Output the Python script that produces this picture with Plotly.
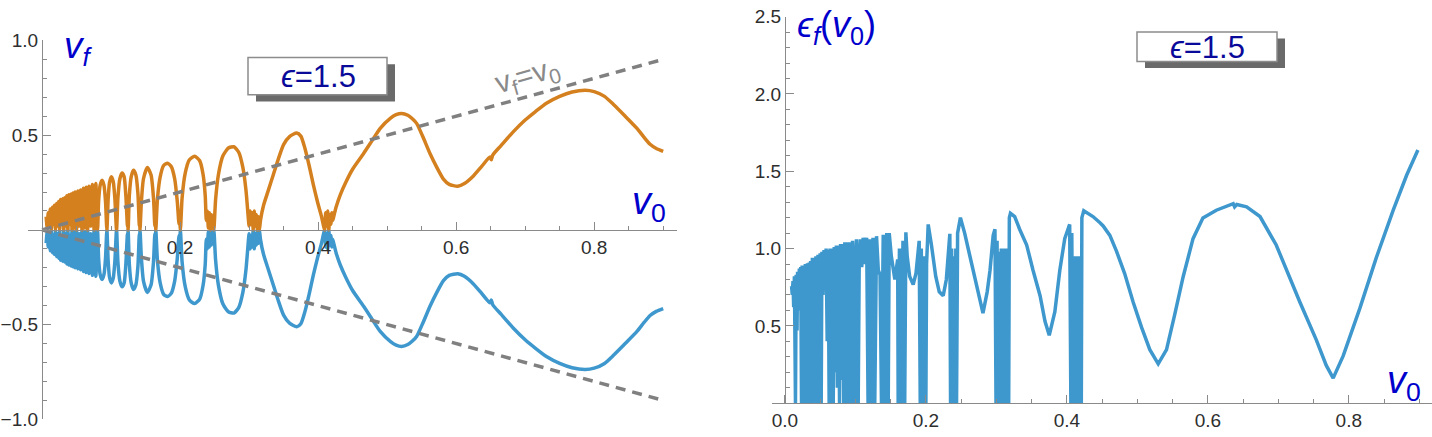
import plotly.graph_objects as go
import numpy as np

W, H = 1432, 437

# ---------------- data: left panel (v_f vs v0) ----------------
v0_left = [
    0.006, 0.0075, 0.009, 0.0105, 0.012, 0.0135, 0.015, 0.0165, 0.018, 0.0195,
    0.021, 0.0225, 0.024, 0.0255, 0.027, 0.0285, 0.030, 0.0315, 0.033, 0.0345,
    0.036, 0.0375, 0.039, 0.0405, 0.042, 0.0435, 0.045, 0.0465, 0.048, 0.050,
    0.052, 0.054, 0.056, 0.058, 0.060, 0.062, 0.064, 0.066, 0.068, 0.0705,
    0.073, 0.0755, 0.078, 0.0805,
    0.082, 0.0842, 0.087, 0.0898, 0.092, 0.094,
    0.0958, 0.0978, 0.1005, 0.1032, 0.1055, 0.108,
    0.110, 0.1128, 0.116, 0.119, 0.1215, 0.1238, 0.1243, 0.1248,
    0.1265, 0.1292, 0.1325, 0.136, 0.139, 0.141, 0.1415, 0.142,
    0.144, 0.147, 0.1527, 0.158, 0.1615, 0.1635, 0.1642, 0.1649,
    0.1672, 0.1712, 0.1762, 0.1818, 0.1872, 0.1922, 0.196, 0.1985, 0.1995, 0.2005,
    0.203, 0.2075, 0.2135, 0.221, 0.2285, 0.2335, 0.2365, 0.238,
    0.2395, 0.241, 0.2425, 0.244, 0.2455, 0.247, 0.248,
    0.249, 0.2515, 0.2555, 0.262, 0.270, 0.278, 0.285, 0.291, 0.2955, 0.2985,
    0.300, 0.3015, 0.303, 0.3045, 0.306, 0.3075, 0.309, 0.3105, 0.312, 0.3135, 0.315,
    0.3165, 0.321, 0.328, 0.335, 0.342, 0.350, 0.359, 0.369, 0.375, 0.381,
    0.387, 0.393, 0.399, 0.405, 0.408,
    0.4095, 0.411, 0.4125, 0.414, 0.4155, 0.417, 0.4185, 0.420,
    0.421, 0.426, 0.432, 0.440, 0.450, 0.4657, 0.478, 0.490, 0.505, 0.513,
    0.521, 0.530, 0.537, 0.543, 0.552, 0.5623, 0.572, 0.5816, 0.590, 0.6024,
    0.612, 0.625, 0.637, 0.649, 0.651, 0.653, 0.665, 0.683, 0.700, 0.715,
    0.7314, 0.750, 0.768, 0.787, 0.800, 0.815, 0.828, 0.845, 0.862, 0.872,
    0.881, 0.890, 0.900,
]
vf_upper = [
    0.07, 0.01, 0.09, 0.02, 0.11, 0.00, 0.12, 0.03, 0.13, 0.00,
    0.14, 0.02, 0.15, 0.00, 0.16, 0.04, 0.165, 0.00, 0.17, 0.02,
    0.18, 0.00, 0.185, 0.03, 0.19, 0.00, 0.195, 0.01, 0.20, 0.00,
    0.205, 0.02, 0.21, 0.00, 0.22, 0.01, 0.225, 0.00, 0.23, 0.02,
    0.24, 0.00, 0.245, 0.00,
    0.15, 0.235, 0.262, 0.235, 0.15, 0.00,
    0.16, 0.25, 0.28, 0.255, 0.17, 0.00,
    0.17, 0.27, 0.30, 0.28, 0.18, 0.02, 0.05, 0.00,
    0.18, 0.28, 0.315, 0.29, 0.19, 0.02, 0.06, 0.00,
    0.15, 0.27, 0.33, 0.29, 0.17, 0.02, 0.07, 0.00,
    0.16, 0.28, 0.34, 0.352, 0.335, 0.27, 0.15, 0.03, 0.08, 0.00,
    0.17, 0.30, 0.37, 0.389, 0.365, 0.29, 0.18, 0.05,
    0.10, 0.01, 0.09, 0.00, 0.08, 0.01, 0.05,
    0.00, 0.16, 0.29, 0.39, 0.432, 0.439, 0.41, 0.33, 0.21, 0.08,
    0.02, 0.10, 0.03, 0.09, 0.00, 0.10, 0.02, 0.08, 0.00, 0.07, 0.00,
    0.05, 0.13, 0.21, 0.29, 0.37, 0.45, 0.494, 0.511, 0.495, 0.43,
    0.34, 0.24, 0.15, 0.07, 0.02,
    0.00, 0.09, 0.02, 0.10, 0.00, 0.08, 0.03, 0.09,
    0.05, 0.12, 0.184, 0.25, 0.32, 0.402, 0.47, 0.536, 0.59, 0.608,
    0.615, 0.605, 0.585, 0.561, 0.49, 0.402, 0.33, 0.268, 0.24, 0.231,
    0.245, 0.285, 0.335, 0.385, 0.37, 0.395, 0.445, 0.519, 0.58, 0.625,
    0.67, 0.705, 0.728, 0.737, 0.73, 0.705, 0.662, 0.60, 0.536, 0.49,
    0.452, 0.43, 0.415,
]
vf_lower = [-v for v in vf_upper]  # mirror branch

diag_x = [0.0, 0.9]
diag_up = [0.0, 0.9]
diag_dn = [0.0, -0.9]

# ---------------- data: right panel (eps_f vs v0) ----------------
v0_right = [
    0.0095, 0.0105, 0.0115, 0.0125, 0.0135, 0.0142, 0.0150, 0.0160, 0.0172, 0.0180,
    0.0192, 0.0205, 0.0215, 0.0225, 0.0236, 0.0245, 0.0255, 0.0265, 0.0278, 0.029,
    0.0305, 0.032, 0.0335, 0.0345, 0.0355, 0.0365, 0.0378, 0.039, 0.0405, 0.042,
    0.0432, 0.044, 0.0455, 0.047, 0.0485, 0.050, 0.0515, 0.0525, 0.054, 0.0555,
    0.057, 0.0585, 0.060, 0.0615, 0.0628, 0.064, 0.0655, 0.067, 0.0686, 0.070,
    0.0715, 0.073, 0.0745, 0.076, 0.0775, 0.079, 0.0805, 0.082, 0.0835, 0.085,
    0.0865, 0.0875, 0.089, 0.0898, 0.0915, 0.0935, 0.0946, 0.096, 0.098, 0.0993,
    0.1015, 0.104, 0.1055, 0.107, 0.109, 0.111, 0.1135, 0.116, 0.118, 0.1205,
    0.1225, 0.125, 0.1275, 0.130, 0.1325, 0.135, 0.137, 0.1395, 0.142, 0.1445,
    0.1466, 0.148, 0.151, 0.156, 0.160, 0.1607, 0.1625, 0.165, 0.1675, 0.170,
    0.1716, 0.1735, 0.177, 0.182, 0.186, 0.1905, 0.192, 0.1935, 0.196, 0.198,
    0.200, 0.201, 0.2033, 0.208, 0.214, 0.219, 0.2246, 0.229, 0.232, 0.234,
    0.235, 0.2365, 0.238, 0.2395, 0.241, 0.2425, 0.2435, 0.245, 0.249, 0.255,
    0.262, 0.272, 0.281, 0.287, 0.291, 0.2955, 0.298, 0.2995, 0.301, 0.3025,
    0.304, 0.3055, 0.307, 0.3085, 0.310, 0.3115, 0.313, 0.3145, 0.316, 0.3175,
    0.3184, 0.320, 0.326, 0.333, 0.343, 0.352, 0.362, 0.369, 0.375, 0.383,
    0.390, 0.397, 0.404, 0.4057, 0.407, 0.4085, 0.410, 0.4115, 0.413, 0.4145,
    0.416, 0.4175, 0.419, 0.4205, 0.4213, 0.424, 0.437, 0.447, 0.4515, 0.461,
    0.4705, 0.482, 0.494, 0.506, 0.5177, 0.5296, 0.5414, 0.553, 0.565, 0.579,
    0.593, 0.612, 0.636, 0.638, 0.641, 0.655, 0.674, 0.697, 0.7116, 0.7305,
    0.754, 0.768, 0.7778, 0.792, 0.8156, 0.839, 0.863, 0.882, 0.898,
]
eps_f = [
    0.757, 0.70, 0.79, 0.62, 0.82, 0.0, 0.0, 0.83, 0.47, 0.85,
    0.66, 0.87, 0.60, 0.88, 0.0, 0.89, 0.0, 0.89, 0.0, 0.90,
    0.0, 0.905, 0.0, 0.91, 0.0, 0.92, 0.65, 0.94, 0.0, 0.94,
    0.60, 0.95, 0.0, 0.96, 0.0, 0.97, 0.0, 0.98, 0.70, 0.99,
    0.78, 1.00, 0.40, 0.99, 0.0, 1.00, 0.0, 1.00, 0.0, 1.01,
    0.20, 1.02, 0.10, 1.02, 0.0, 1.03, 0.15, 1.03, 0.0, 1.04,
    0.0, 1.04, 0.85, 0.0, 1.04, 0.0, 0.0, 1.05, 0.90, 0.0,
    1.06, 0.0, 0.95, 1.06, 0.88, 1.07, 0.90, 1.07, 0.0, 1.06,
    0.0, 1.07, 0.0, 1.08, 0.86, 0.83, 0.0, 1.09, 0.0, 1.10,
    0.0, 1.10, 0.95, 0.80, 0.93, 0.0, 1.00, 0.0, 1.05, 0.0,
    1.105, 0.95, 0.82, 0.767, 0.84, 1.05, 0.0, 1.00, 0.0, 0.95,
    0.0, 0.90, 1.156, 1.02, 0.82, 0.72, 0.695, 0.80, 0.95, 1.095,
    0.0, 1.00, 0.0, 0.95, 0.0, 1.00, 0.0, 1.10, 1.20, 1.10,
    0.96, 0.756, 0.582, 0.72, 0.86, 1.085, 1.125, 0.0, 1.05, 0.0,
    0.98, 0.0, 1.00, 0.0, 1.00, 0.0, 1.00, 0.0, 1.00, 0.0,
    1.20, 1.228, 1.207, 1.125, 1.023, 0.86, 0.695, 0.53, 0.439, 0.592,
    0.86, 1.064, 1.156, 0.0, 1.10, 0.0, 0.95, 0.0, 0.95, 0.0,
    0.95, 0.0, 0.95, 0.0, 1.20, 1.244, 1.207, 1.167, 1.146, 1.085,
    0.982, 0.838, 0.654, 0.49, 0.346, 0.254, 0.346, 0.572, 0.818, 1.064,
    1.197, 1.248, 1.29, 1.27, 1.285, 1.27, 1.207, 1.023, 0.859, 0.654,
    0.408, 0.244, 0.162, 0.306, 0.613, 0.941, 1.248, 1.474, 1.638,
]

left_xticks = [0.2, 0.4, 0.6, 0.8]
left_xticktext = ["0.2", "0.4", "0.6", "0.8"]
left_yticks = [-1.0, -0.5, 0.5, 1.0]
left_yticktext = ["\u22121.0", "\u22120.5", "0.5", "1.0"]
right_xticks = [0.0, 0.2, 0.4, 0.6, 0.8]
right_xticktext = ["0.0", "0.2", "0.4", "0.6", "0.8"]
right_yticks = [0.5, 1.0, 1.5, 2.0, 2.5]
right_yticktext = ["0.5", "1.0", "1.5", "2.0", "2.5"]

# ---------------- styling ----------------
BLUE = "#3E98CD"
ORANGE = "#D4801F"
GRAY_DASH = "#808080"
AX = "#8a8a8a"
FONT = "Liberation Sans, DejaVu Sans, Arial, sans-serif"
TICKFONT = dict(family=FONT, size=19, color="#2e2e2e")
LABEL_BLUE = "#0000CC"
BOX_TEXT = "#0A0A9A"
LW = 3.5


def px(x):
    return x / W


def py(y):
    return 1 - y / H


fig = go.Figure()

fig.add_trace(go.Scatter(x=v0_left, y=vf_lower, mode="lines",
                         line=dict(color=BLUE, width=LW, shape="spline", smoothing=0.6),
                         xaxis="x", yaxis="y"))
fig.add_trace(go.Scatter(x=v0_left, y=vf_upper, mode="lines",
                         line=dict(color=ORANGE, width=LW, shape="spline", smoothing=0.6),
                         xaxis="x", yaxis="y"))
fig.add_trace(go.Scatter(x=diag_x, y=diag_up, mode="lines",
                         line=dict(color=GRAY_DASH, width=3.5, dash="10px,7px"),
                         xaxis="x", yaxis="y"))
fig.add_trace(go.Scatter(x=diag_x, y=diag_dn, mode="lines",
                         line=dict(color=GRAY_DASH, width=3.5, dash="10px,7px"),
                         xaxis="x", yaxis="y"))
fig.add_trace(go.Scatter(x=v0_right, y=eps_f, mode="lines",
                         line=dict(color=BLUE, width=LW), xaxis="x2", yaxis="y2"))

# domains (pixel positions of the axes in the reference)
lx0, lx1 = px(28), px(677)
ly0, ly1 = py(430), py(32)
rx0, rx1 = px(771.5), 1.0
ry0, ry1 = py(413), py(7)

axis_common = dict(showgrid=False, zeroline=False, showline=True, linecolor=AX,
                   linewidth=1.2, ticks="inside", tickcolor=AX, tickwidth=1.2,
                   ticklen=8, tickfont=TICKFONT, tickmode="array",
                   ticklabeloverflow="allow")


def minor(vals):
    return dict(tickmode="array", tickvals=vals, ticks="inside", ticklen=4,
                tickcolor=AX, tickwidth=1)


fig.update_layout(
    width=W, height=H, margin=dict(l=0, r=0, t=0, b=0),
    paper_bgcolor="white", plot_bgcolor="white", showlegend=False,
    xaxis=dict(domain=[lx0, lx1], range=[-0.0203, 0.92], anchor="free",
               position=(ly0 + ly1) / 2, tickvals=left_xticks, ticktext=left_xticktext,
               minor=minor(list(np.round(np.arange(0.05, 0.91, 0.05), 3))),
               **axis_common),
    yaxis=dict(domain=[ly0, ly1], range=[-1.0, 1.0], anchor="free", position=px(42),
               tickvals=left_yticks, ticktext=left_yticktext,
               minor=minor(list(np.round(np.arange(-0.9, 0.95, 0.1), 3))),
               **axis_common),
    xaxis2=dict(domain=[rx0, rx1], range=[-0.019, 0.918], anchor="y2",
                tickvals=right_xticks, ticktext=right_xticktext,
                minor=minor(list(np.round(np.arange(0.05, 0.91, 0.05), 3))),
                **axis_common),
    yaxis2=dict(domain=[ry0, ry1], range=[0.0, 2.5], anchor="free", position=px(785),
                tickvals=right_yticks, ticktext=right_yticktext,
                minor=minor(list(np.round(np.arange(0.1, 2.45, 0.1), 3))),
                **axis_common),
)

# legend-like boxes with shadow
shapes = []
for (x0, y0, x1, y1) in [(248, 50, 387, 89), (1137, 23, 1277, 54)]:
    shapes.append(dict(type="rect", xref="paper", yref="paper",
                       x0=px(x0 + 8), x1=px(x1 + 8), y0=py(y1 + 7), y1=py(y0 + 7),
                       fillcolor="#6a6a6a", line=dict(width=0), layer="above"))
    shapes.append(dict(type="rect", xref="paper", yref="paper",
                       x0=px(x0), x1=px(x1), y0=py(y1), y1=py(y0),
                       fillcolor="white", line=dict(color="#8c8c8c", width=1.5), layer="above"))
fig.update_layout(shapes=shapes)


def txt(x, y, text, size, color, angle=0):
    return dict(x=px(x), y=py(y), text=text, showarrow=False, xref="paper", yref="paper",
                xanchor="center", yanchor="middle", textangle=angle,
                font=dict(family=FONT, size=size, color=color))


ann = [
    txt(318, 70, "<i>\u03f5</i>=1.5", 31, BOX_TEXT),
    txt(1207, 39, "<i>\u03f5</i>=1.5", 31, BOX_TEXT),
    txt(78, 40, "<i>v<sub>f</sub></i>", 37, LABEL_BLUE),
    txt(649, 204, "<i>v</i><sub>0</sub>", 38, LABEL_BLUE),
    txt(836, 18, "<i>\u03f5<sub>f</sub></i>(<i>v</i><sub>0</sub>)", 36, LABEL_BLUE),
    txt(1404, 392, "<i>v</i><sub>0</sub>", 38, LABEL_BLUE),
    txt(527, 70, "v<sub>f</sub>=v<sub>0</sub>", 30, "#8a8a8a", -16),
]
fig.update_layout(annotations=ann)

fig.write_html("out.html")
